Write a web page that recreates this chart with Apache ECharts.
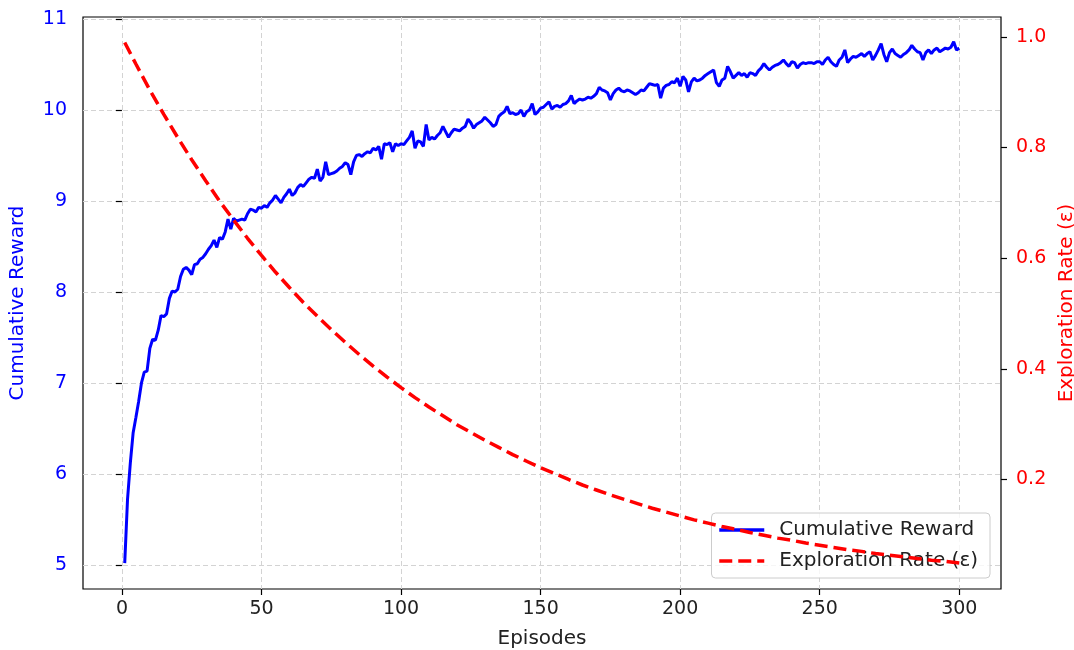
<!DOCTYPE html>
<html>
<head>
<meta charset="utf-8">
<script src="https://cdn.jsdelivr.net/npm/echarts@6/dist/echarts.min.js"></script>
<style>
    html, body { margin: 0; padding: 0; background: #fff; }
    #chart { width: 1074px; height: 650px; }
</style>
</head>
<body>
<div id="chart"></div>
<script>
// 累计奖励（第1~300回合）
const rewardValues = [
    5.02, 5.72, 6.12, 6.45, 6.62, 6.80, 7.00, 7.12, 7.13, 7.38,
    7.48, 7.47, 7.58, 7.74, 7.73, 7.76, 7.93, 8.01, 8.00, 8.03,
    8.17, 8.25, 8.27, 8.24, 8.19, 8.30, 8.31, 8.36, 8.38, 8.42,
    8.47, 8.51, 8.57, 8.49, 8.60, 8.58, 8.66, 8.80, 8.69, 8.81,
    8.78, 8.79, 8.80, 8.79, 8.86, 8.91, 8.90, 8.88, 8.93, 8.92,
    8.95, 8.93, 8.98, 9.01, 9.06, 9.02, 8.98, 9.04, 9.08, 9.13,
    9.06, 9.09, 9.15, 9.18, 9.16, 9.20, 9.24, 9.26, 9.25, 9.35,
    9.22, 9.26, 9.43, 9.29, 9.30, 9.31, 9.33, 9.36, 9.38, 9.42,
    9.40, 9.29, 9.43, 9.50, 9.51, 9.49, 9.52, 9.54, 9.53, 9.58,
    9.56, 9.60, 9.46, 9.63, 9.62, 9.64, 9.54, 9.63, 9.61, 9.63,
    9.62, 9.66, 9.70, 9.77, 9.58, 9.66, 9.65, 9.60, 9.84, 9.67,
    9.70, 9.68, 9.72, 9.75, 9.82, 9.76, 9.70, 9.75, 9.79, 9.78,
    9.77, 9.80, 9.82, 9.90, 9.86, 9.80, 9.84, 9.86, 9.88, 9.92,
    9.89, 9.86, 9.82, 9.84, 9.93, 9.96, 9.98, 10.04, 9.96, 9.97,
    9.95, 9.96, 10.00, 9.93, 9.98, 10.00, 10.07, 9.95, 9.98, 10.02,
    10.03, 10.06, 10.09, 10.01, 10.04, 10.05, 10.03, 10.06, 10.07, 10.10,
    10.16, 10.07, 10.10, 10.12, 10.11, 10.12, 10.14, 10.13, 10.15, 10.18,
    10.25, 10.22, 10.21, 10.19, 10.11, 10.18, 10.22, 10.24, 10.21, 10.20,
    10.22, 10.21, 10.19, 10.17, 10.19, 10.22, 10.21, 10.25, 10.29, 10.28,
    10.27, 10.28, 10.13, 10.24, 10.27, 10.28, 10.31, 10.30, 10.35, 10.26,
    10.37, 10.33, 10.20, 10.31, 10.35, 10.32, 10.33, 10.35, 10.38, 10.40,
    10.42, 10.44, 10.30, 10.26, 10.33, 10.35, 10.48, 10.42, 10.35, 10.38,
    10.41, 10.38, 10.40, 10.36, 10.41, 10.40, 10.38, 10.43, 10.46, 10.51,
    10.47, 10.44, 10.47, 10.49, 10.50, 10.52, 10.55, 10.51, 10.48, 10.53,
    10.52, 10.46, 10.50, 10.52, 10.51, 10.52, 10.52, 10.51, 10.53, 10.53,
    10.50, 10.55, 10.58, 10.53, 10.50, 10.48, 10.55, 10.58, 10.66, 10.52,
    10.56, 10.59, 10.58, 10.60, 10.62, 10.59, 10.62, 10.64, 10.55, 10.60,
    10.66, 10.73, 10.61, 10.53, 10.63, 10.67, 10.62, 10.60, 10.58, 10.61,
    10.63, 10.66, 10.71, 10.67, 10.64, 10.63, 10.55, 10.63, 10.66, 10.62,
    10.66, 10.68, 10.64, 10.66, 10.68, 10.67, 10.69, 10.75, 10.66, 10.68
];

// 探索率 ε（按回合取点）
const epsilonEpisodes = [
    1, 5, 10, 15, 20, 25, 30, 35, 40, 45, 50, 55, 60, 65, 70, 75, 80, 85, 90, 95, 100,
    105, 110, 115, 120, 125, 130, 135, 140, 145, 150, 155, 160, 165, 170, 175, 180, 185, 190, 195, 200,
    205, 210, 215, 220, 225, 230, 235, 240, 245, 250, 255, 260, 265, 270, 275, 280, 285, 290, 295, 300
];
const epsilonValues = [
    0.990, 0.951, 0.904, 0.860, 0.818, 0.778, 0.740, 0.703, 0.669, 0.636, 0.605,
    0.575, 0.547, 0.520, 0.495, 0.471, 0.448, 0.426, 0.405, 0.385, 0.366,
    0.348, 0.331, 0.315, 0.299, 0.285, 0.271, 0.258, 0.245, 0.233, 0.221,
    0.211, 0.200, 0.190, 0.181, 0.172, 0.164, 0.156, 0.148, 0.141, 0.134,
    0.127, 0.121, 0.115, 0.110, 0.104, 0.099, 0.094, 0.090, 0.085, 0.081,
    0.077, 0.073, 0.070, 0.066, 0.063, 0.060, 0.057, 0.054, 0.052, 0.049
];

// 刻度
const xTicks = [0, 50, 100, 150, 200, 250, 300];
const rewardTicks = [5, 6, 7, 8, 9, 10, 11];
const epsilonTicks = [0.2, 0.4, 0.6, 0.8, 1.0];

const FONT = 'DejaVu Sans';

const chart = echarts.init(document.getElementById('chart'));

const rewardData = rewardValues.map((v, i) => [i + 1, v]);
const epsilonData = epsilonEpisodes.map((ep, i) => [ep, epsilonValues[i]]);

const gridLine = {
    show: true,
    lineStyle: { color: '#d3d3d3', width: 1, type: [5, 3] }
};

const option = {
    backgroundColor: '#fff',
    animation: false,
    textStyle: { fontFamily: FONT },
    grid: {
        left: 83,
        right: 73,
        top: 17,
        bottom: 61,
        outerBoundsMode: 'none',
        containLabel: false,
        show: true,
        borderColor: '#000',
        borderWidth: 1.2,
        backgroundColor: 'transparent'
    },
    legend: {
        orient: 'vertical',
        right: 84,
        bottom: 72,
        z: 4,
        itemWidth: 45,
        itemHeight: 14,
        itemGap: 11,
        padding: [7, 12, 7, 6],
        backgroundColor: 'rgba(255,255,255,0.8)',
        borderColor: '#cccccc',
        borderWidth: 1,
        borderRadius: 4,
        itemStyle: { opacity: 0 },
        lineStyle: { width: 3.5 },
        textStyle: { fontFamily: FONT, fontSize: 20, color: '#222', padding: [0, 0, 0, 10] },
        data: ['Cumulative Reward', 'Exploration Rate (ε)']
    },
    xAxis: {
        type: 'value',
        min: -13.95,
        max: 314.95,
        name: 'Episodes',
        nameLocation: 'middle',
        nameGap: 40,
        nameTextStyle: { fontFamily: FONT, fontSize: 20, color: '#222' },
        axisLine: { show: false },
        axisTick: { show: true, inside: false, length: 6, customValues: xTicks, lineStyle: { color: '#000', width: 1.2 } },
        axisLabel: { customValues: xTicks, fontFamily: FONT, fontSize: 19, color: '#222', margin: 11 },
        splitLine: gridLine
    },
    yAxis: [
        {
            type: 'value',
            position: 'left',
            min: 4.736,
            max: 11.022,
            name: 'Cumulative Reward',
            nameLocation: 'middle',
            nameRotate: 90,
            nameGap: 55,
            nameTextStyle: { fontFamily: FONT, fontSize: 20, color: '#0000ff' },
            axisLine: { show: false },
            axisTick: { show: true, inside: false, length: 6, customValues: rewardTicks, lineStyle: { color: '#000', width: 1.2 } },
            axisLabel: { customValues: rewardTicks, fontFamily: FONT, fontSize: 19, color: '#0000ff', margin: 16 },
            splitLine: gridLine
        },
        {
            type: 'value',
            position: 'right',
            min: 0.002,
            max: 1.036,
            name: 'Exploration Rate (ε)',
            nameLocation: 'middle',
            nameRotate: 90,
            nameGap: 54,
            nameTextStyle: { fontFamily: FONT, fontSize: 20, color: '#ff0000' },
            axisLine: { show: false },
            axisTick: { show: true, inside: false, length: 6, customValues: epsilonTicks, lineStyle: { color: '#000', width: 1.2 } },
            axisLabel: {
                customValues: epsilonTicks,
                fontFamily: FONT,
                fontSize: 19,
                color: '#ff0000',
                margin: 15,
                formatter: v => v.toFixed(1)
            },
            splitLine: { show: false }
        }
    ],
    series: [
        {
            name: 'Cumulative Reward',
            type: 'line',
            yAxisIndex: 0,
            data: rewardData,
            symbol: 'none',
            z: 2,
            lineStyle: { color: '#0000ff', width: 3 },
            itemStyle: { color: '#0000ff' }
        },
        {
            name: 'Exploration Rate (ε)',
            type: 'line',
            yAxisIndex: 1,
            data: epsilonData,
            symbol: 'none',
            z: 10,
            lineStyle: { color: '#ff0000', width: 3.5, type: [13, 6] },
            itemStyle: { color: '#ff0000' }
        }
    ]
};

chart.setOption(option);
</script>
</body>
</html>
